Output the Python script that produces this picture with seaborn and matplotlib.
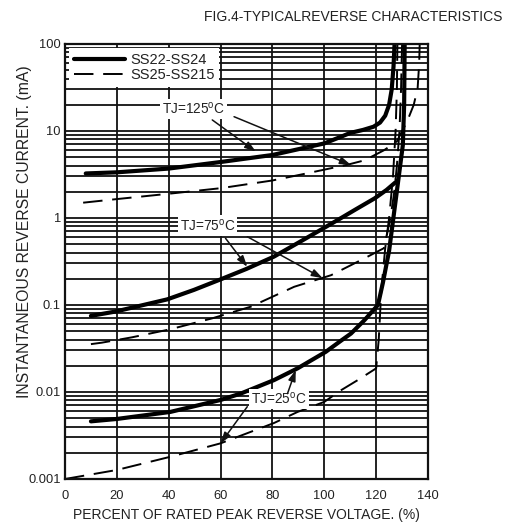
import numpy as np
import pandas as pd
import matplotlib
matplotlib.use("Agg")
import matplotlib.pyplot as plt
import matplotlib.ticker as mticker
import seaborn as sns

# curvas (x = % de tension inversa, y = corriente en mA)
solid_125_x = [8, 20, 40, 60, 80, 100, 106.5, 110, 115, 119, 121.5, 123.5, 125, 126, 126.7, 127.1]
solid_125_y = [3.25, 3.35, 3.7, 4.4, 5.3, 7.2, 8.6, 9.5, 10.3, 11.2, 12.5, 15, 20, 30, 55, 100]

dashed_125_x = [7, 20, 40, 60, 80, 93.5, 109, 115.5, 123, 128, 132, 134.5, 136, 136.6, 136.8]
dashed_125_y = [1.5, 1.65, 1.9, 2.2, 2.7, 3.27, 4.1, 4.6, 6.0, 7.6, 13, 20, 31, 60, 100]

solid_75_x = [10, 19.4, 39.4, 49.7, 60, 70, 80.6, 90, 100.6, 106.5, 112, 119.4, 124, 128.3]
solid_75_y = [0.075, 0.084, 0.116, 0.149, 0.197, 0.26, 0.36, 0.52, 0.79, 1.0, 1.25, 1.68, 2.1, 2.7]

dashed_75_x = [10, 14.2, 25.8, 40.6, 56.8, 71.6, 88.4, 102.6, 115.5, 123, 125.5, 127, 128, 129, 129.6, 130]
dashed_75_y = [0.0355, 0.0369, 0.0425, 0.0526, 0.0703, 0.0955, 0.162, 0.22, 0.344, 0.45, 1.0, 2.0, 4.0, 10, 30, 100]

solid_25_x = [10, 20, 40.6, 60, 67.8, 80.6, 89.7, 100.6, 106.5, 110.3, 115.5, 120.7, 122.6, 125, 127.8, 130.3, 130.8, 131]
solid_25_y = [0.0046, 0.0049, 0.0059, 0.0081, 0.0096, 0.0137, 0.0187, 0.029, 0.039, 0.047, 0.067, 0.1, 0.18, 0.42, 1.84, 6.9, 20, 100]

dashed_25_x = [0, 20, 40.6, 60, 80.6, 89.7, 100, 106.5, 112.9, 120, 121, 122, 123.5, 125, 126.5, 127.5, 128, 128.2]
dashed_25_y = [0.001, 0.00127, 0.0018, 0.00257, 0.0044, 0.0059, 0.0077, 0.0105, 0.0137, 0.0187, 0.04, 0.15, 0.45, 1.0, 3.0, 10, 30, 100]

x_ticks = [0, 20, 40, 60, 80, 100, 120, 140]
y_ticks = [0.001, 0.01, 0.1, 1, 10, 100]
y_tick_labels = ["0.001", "0.01", "0.1", "1", "10", "100"]

sns.set_style("white")
plt.rcParams['font.family'] = ['Liberation Sans', 'DejaVu Sans']

fig = plt.figure(figsize=(5.05, 5.25), dpi=100)
ax = fig.add_axes([65/505, 1-479/525, 363/505, 435/525])

solido = dict(color='black', lw=3, sort=False, estimator=None, legend=False)
rayado = dict(color='black', lw=1.4, sort=False, estimator=None, legend=False,
              linestyle=(0, (10, 5)))

sns.lineplot(x=solid_125_x, y=solid_125_y, ax=ax, label='SS22-SS24', **solido)
sns.lineplot(x=dashed_125_x, y=dashed_125_y, ax=ax, label='SS25-SS215', **rayado)
sns.lineplot(x=solid_75_x, y=solid_75_y, ax=ax, **solido)
sns.lineplot(x=dashed_75_x, y=dashed_75_y, ax=ax, **rayado)
sns.lineplot(x=solid_25_x, y=solid_25_y, ax=ax, **solido)
sns.lineplot(x=dashed_25_x, y=dashed_25_y, ax=ax, **rayado)

ax.set_yscale('log')
ax.set_xlim(0, 140)
ax.set_ylim(0.001, 100)
ax.xaxis.set_major_locator(mticker.FixedLocator(x_ticks))
ax.yaxis.set_major_locator(mticker.FixedLocator(y_ticks))
ax.yaxis.set_major_formatter(mticker.FixedFormatter(y_tick_labels))
ax.yaxis.set_minor_locator(mticker.LogLocator(base=10, subs=np.arange(2, 10)))
ax.yaxis.set_minor_formatter(mticker.NullFormatter())
ax.tick_params(axis='both', which='both', length=0, labelsize=9.3, colors='#222222')
ax.tick_params(axis='x', pad=8)
ax.tick_params(axis='y', pad=3)

ax.grid(True, which='major', axis='both', color='#111111', lw=1.3)
ax.grid(True, which='minor', axis='y', color='#111111', lw=1.3)
ax.set_axisbelow(True)
for s in ax.spines.values():
    s.set_color('#111111')
    s.set_linewidth(1.6)

ax.set_xlabel('PERCENT OF RATED PEAK REVERSE VOLTAGE. (%)', fontsize=10, color='#222222')
ax.xaxis.label.set_va('center')
ax.xaxis.set_label_coords(0.5, -(515-479)/435)
ax.set_ylabel('INSTANTANEOUS REVERSE CURRENT. (mA)', fontsize=11.3, color='#222222')
ax.yaxis.label.set_va('center')
ax.yaxis.set_label_coords(-40/363, (479-232)/435)

fig.text(0.995, 1-17/525, 'FIG.4-TYPICALREVERSE CHARACTERISTICS', ha='right', va='center',
         fontsize=10, color='#222222')

leg = ax.legend(loc='upper left', fontsize=10.5, frameon=True, fancybox=False, framealpha=1,
                facecolor='white', edgecolor='white', borderaxespad=0.3, borderpad=0.3,
                handlelength=3.5, handletextpad=0.35, labelspacing=0.1)
leg.get_frame().set_linewidth(0)
for t in leg.get_texts():
    t.set_color('#222222')

caja = dict(boxstyle='square,pad=0.15', fc='white', ec='none')
flecha = dict(arrowstyle='-|>,head_length=0.6,head_width=0.2', color='#111111', lw=1.1,
              mutation_scale=11, shrinkA=0, shrinkB=0)

# etiquetas de temperatura y sus flechas
ax.text(49.4, 17.9, 'TJ=125$^\\mathregular{o}$C', ha='center', va='center', fontsize=9.8,
        bbox=caja, zorder=5, color='#222222')
ax.annotate('', xy=(73.6, 5.8), xytext=(56.8, 13.4), arrowprops=flecha, zorder=6)
ax.annotate('', xy=(110.3, 4.07), xytext=(65.2, 14.6), arrowprops=flecha, zorder=6)

ax.text(54.9, 0.82, 'TJ=75$^\\mathregular{o}$C', ha='center', va='center', fontsize=9.8,
        bbox=caja, zorder=5, color='#222222')
ax.annotate('', xy=(70.3, 0.275), xytext=(61.9, 0.585), arrowprops=flecha, zorder=6)
ax.annotate('', xy=(99.4, 0.203), xytext=(70.3, 0.61), arrowprops=flecha, zorder=6)

ax.text(82.5, 0.0084, 'TJ=25$^\\mathregular{o}$C', ha='center', va='center', fontsize=9.8,
        bbox=caja, zorder=5, color='#222222')
ax.annotate('', xy=(89.0, 0.0179), xytext=(85.8, 0.00957), arrowprops=flecha, zorder=6)
ax.annotate('', xy=(60.0, 0.00257), xytext=(70.3, 0.00678), arrowprops=flecha, zorder=6)

fig.savefig('out.png', dpi=100, facecolor='white')
